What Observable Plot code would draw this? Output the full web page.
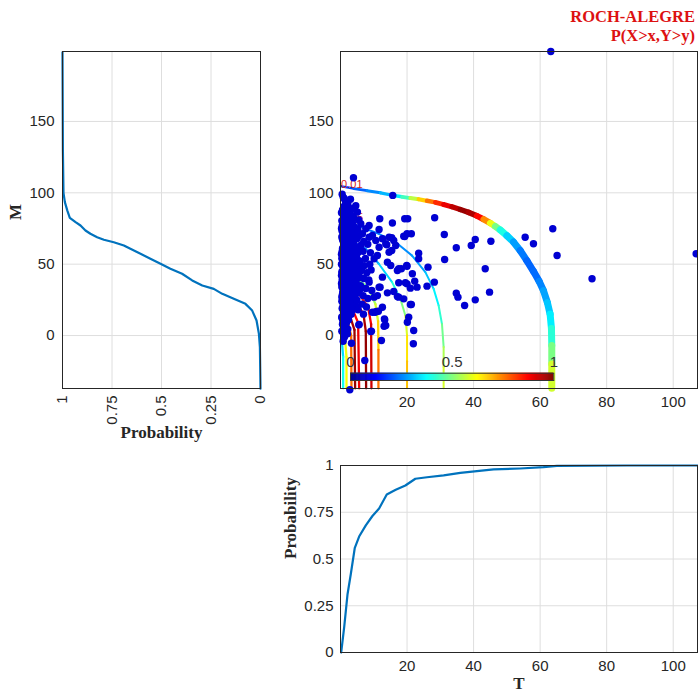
<!DOCTYPE html>
<html><head><meta charset="utf-8">
<script src="https://cdn.jsdelivr.net/npm/d3@7"></script>
<script src="https://cdn.jsdelivr.net/npm/@observablehq/plot@0.6"></script>
<style>
html,body{margin:0;padding:0;background:#fff;overflow:hidden}
#fig{position:relative;width:698px;height:694px;overflow:hidden}
#fig > *{position:absolute}
.ttl{right:3px;font-family:"Liberation Serif","Times New Roman",serif;font-weight:bold;color:#dd1111;font-size:16.5px;line-height:16px;height:16px;white-space:nowrap}
</style></head><body><div id="fig"></div>
<script>
// ---------- data ----------
const mTicks = [0, 50, 100, 150];
const tTicks = [20, 40, 60, 80, 100];
const probTicks = [1, 0.75, 0.5, 0.25, 0];
const barTicks = [0, 0.5, 1];
const mDomain = [-37.1, 199];
const tDomain = [0, 107.3];

// empirical CDF of M (left panel)
const cdfM_M = [198.4, 129.7, 100, 93.5, 87.7, 82.5, 79.5, 77.1, 73.6, 71.3, 68.9, 67.1, 65.4, 63.1, 60.8, 57.3, 53.8, 50.3, 46.8, 43.3, 38.6, 35.1, 32.7, 29.2, 25.7, 22.2, 17.5, 10.5, 1.2, -8.2, -37.2];
const cdfM_P = [1, 0.998, 0.995, 0.988, 0.976, 0.963, 0.934, 0.909, 0.884, 0.859, 0.825, 0.791, 0.741, 0.690, 0.657, 0.606, 0.556, 0.505, 0.455, 0.396, 0.345, 0.294, 0.236, 0.193, 0.135, 0.076, 0.042, 0.020, 0.008, 0.003, 0];

// empirical CDF of T (bottom panel)
const cdfT_T = [0.2, 1.1, 2.1, 3.1, 4.3, 5.6, 7.6, 9.6, 11.6, 13.9, 16.6, 19.5, 22.5, 26, 31, 36, 41, 46, 54, 61, 65, 86, 107.3];
const cdfT_P = [0, 0.135, 0.31, 0.42, 0.56, 0.62, 0.68, 0.73, 0.77, 0.845, 0.87, 0.893, 0.929, 0.937, 0.947, 0.961, 0.97, 0.979, 0.984, 0.991, 0.998, 1, 1];

// observed events [T, M]
const events = [
 // dense column T < 4.3
 [0.8,97],[1.5,94],[2.2,92],[1.0,90.5],[3.0,95.5],[0.5,99],
 [0.6,88],[1.8,87],[2.9,86],[3.8,89],[0.9,84],[2.4,83],[4.0,82.5],[1.3,81],[3.3,80.5],[0.4,80.5],
 [0.7,79],[2.0,78],[3.1,77.5],[4.1,76],[1.2,75.5],[2.7,74],[0.5,73],[3.6,72.5],[1.7,71.5],[2.9,70.5],[4.2,71],[0.9,70],
 [0.4,69],[1.6,68.5],[2.5,67.5],[3.5,67],[0.8,66],[2.0,65],[3.0,64.5],[4.0,65.5],[1.3,63],[2.4,62],[3.4,61.5],[0.6,61],[1.8,60.5],[2.8,60],[3.9,62],[1.0,64.8],
 [0.5,59],[1.5,58.5],[2.3,57.5],[3.2,58],[4.1,57],[0.9,56],[2.0,55],[2.9,54.5],[3.7,55.5],[0.4,54],[1.4,53],[2.5,52],[3.3,51.5],[4.2,52.5],[0.8,51],[1.9,50.5],[2.8,50],[3.9,50.2],
 [0.6,49],[1.6,48.5],[2.4,47.5],[3.4,48],[4.0,46.5],[0.9,46],[2.0,45],[3.0,44.5],[3.8,43.5],[0.4,44],[1.3,43],[2.2,42],[3.2,41.5],[4.2,41],[0.7,41],[1.8,40.5],[2.7,40],[3.6,40.3],
 [0.5,39],[1.5,38.5],[2.4,37.5],[3.3,38],[4.1,36.5],[0.8,36],[2.0,35],[2.9,34.5],[3.8,33.5],[0.4,34],[1.3,33],[2.3,32],[3.2,31.5],[0.7,31],[1.7,30.5],[2.8,30],[4.0,31],
 [0.6,29],[1.6,28.5],[2.5,27.5],[3.5,28],[0.9,26],[2.0,25],[3.1,24.5],[0.4,24],[1.4,23],[2.4,22],[3.3,21.5],[0.8,21],[1.9,20.5],[4.0,23.5],
 [0.5,19],[1.5,18],[2.6,17],[0.9,16],[2.0,14.5],[3.2,15],[0.4,13],[1.3,12],[2.4,11],[0.7,10.5],
 [0.6,8],[1.6,6],[0.4,3],[1.2,-1],[0.8,-4],
 [1.1,96],[2.6,89],[0.3,86],[1.6,85],[3.4,84],[0.5,77],[1.5,77],[2.4,76.5],[3.7,78.5],[5.5,81],[0.3,75],[1.9,73.5],[3.2,73.5],[5.2,74.5],[0.6,67.5],[1.2,66.8],[3.9,68.5],[5.6,70],
 [1.0,60],[2.2,59.5],[3.6,59],[5.2,58],[0.3,57],[1.2,55],[2.6,56],[5.0,53.5],[0.3,50],[1.1,48],[2.2,49],[3.0,47],[5.3,49.5],[0.5,45],[1.6,45],[2.6,43.5],[4.8,44],
 [0.3,42],[1.1,40],[2.3,39.5],[3.6,42.5],[5.6,40.5],[1.0,37],[1.9,36.5],[3.1,36],[5.0,34.5],[0.3,36.5],[1.1,31.5],[2.1,31],[3.5,32.5],[5.8,32],[1.1,27],[2.1,27],[3.0,26.5],[4.4,28.5],
 [0.4,27],[1.2,24.5],[2.7,23.5],[4.6,21],[1.1,20],[2.8,19.5],[3.7,18],[1.1,15],[2.5,13.5],[1.8,9],[0.9,6],[2.2,4.5],
 // 4.3 <= T < 9.6
 [4.6,91],[5.1,86.5],[6.1,78.3],[7.6,74.8],[8.6,77.1],[6.6,71.3],[9.6,70.1],[5.0,68],[7.0,66],[8.2,64],[5.5,62],[6.8,59],[9.0,58],[4.8,56],[7.5,54],[5.9,52],[8.8,50],[4.6,48],[6.3,46],[7.9,44],[9.2,46],[5.2,42],[7.0,40],[8.5,39],[4.7,37],[6.0,35],[7.6,33],[9.4,31.6],[5.4,30],[6.8,28],[8.2,26],[4.9,25],[6.5,22],[7.8,20],[5.3,18],[6.9,15],[5.6,7.7],[9.1,2.8],[8.6,68.9],[8.6,37.4],[4.5,60],[5.8,44.5],[4.4,33],[6.2,63.5],[7.2,49],
 // T >= 9.6
 [3.9,110.6],[63.2,199],[15.7,98.2],[11.8,81.8],[15.6,78.8],[19.3,81.8],[20.2,81.8],[28.3,82.5],[31.2,70.8],[20,71.3],[19.3,69.4],[23.5,57.7],[23.5,53.8],[26.3,47.9],[31.3,53.3],[28.2,37.4],[34.8,61.5],[39.3,63.1],[40.5,67.3],[45.2,66.1],[43.5,46.8],[44.8,30.4],[34.8,29.7],[35.3,26.9],[37.3,21],[40.5,25],[55.5,68.9],[58,64.3],[63.8,74.8],[65.1,56.1],[75.6,39.8],[106.9,57.3],
 [11.6,74.3],[19,69.6],[21.3,71.3],[14.6,68.9],[16,66.6],[13.9,63.6],[14.6,58.4],[17.5,46.8],[20,48.6],[17.1,45.6],[21.6,43.3],[14.1,51.4],[15.1,49.1],[12.6,40.9],[17.5,37],[19.5,37],[21,33.2],[23,33.9],[26,34.6],[16,30.9],[17.5,26.9],[19,25.7],[14.1,29.9],[21.3,21.7],[12.6,19.8],[10.8,16.8],[9.6,16.3],[13.2,11.7],[13.6,7],[20.5,12.8],[20.1,9.3],[22,3.5],[11.6,61.9],[10.6,66.6],[11.1,56.1],[10.1,53.8],[11.6,33.9],[11.1,28],[12.6,67.8],[13.6,64.3],[16.6,63.1],
 [9.3,3],[12.3,-3.5],[13.3,11],[13.1,6.5],[21.9,-5.8],[21,21.7],[7.3,-17.5],[2.8,-38],[3.3,-5.4],[2.1,1.2],[0.4,12.4],[5.5,7.5],[10.4,16.3],[11.4,17],[10.1,26.9],[11.9,33.9],[17.1,27.3],[20,36.2],[22.3,38.1],[18.3,46.8],[19.9,49.1],[15.4,59.6],[15.4,68.5]
];

// contour lines of P(X>x,Y>y): points [T, M, colour value]
const contour001 = [[0.3,104.5,0.18],[4,103,0.2],[8,101.5,0.24],[12,100,0.28],[15.5,98.3,0.33],[18.5,97.2,0.38],[21,96.3,0.5],[23.5,95.5,0.62],[26,94.4,0.72],[28.5,93.3,0.8],[31,91.8,0.87],[33.5,90.2,0.92],[36,88.3,0.96],[38.5,86.3,0.99],[41,83.8,0.92],[43,81.5,0.82],[45,78.8,0.66],[46.5,76.5,0.55],[48,74,0.44],[50,70,0.36],[52,65.5,0.3],[54,59.6,0.26],[56,52.5,0.23],[58,45,0.22],[59.7,38,0.24],[61,31.5,0.27],[62.2,23,0.3],[63,15,0.34],[63.4,5,0.38],[63.5,-7,0.45],[63.5,-20,0.54],[63.5,-37,0.62]];
const contour005 = [[0.3,81,0.22],[5,77,0.23],[11.5,71.3,0.25],[16.6,65.4,0.26],[21.5,56,0.27],[25.5,44.4,0.3],[28,32.7,0.34],[29.5,21,0.39],[30.5,8,0.45],[31,-8,0.52],[31,-22,0.57],[31,-37,0.6]];
const contourC = [[0.3,68,0.22],[4,65,0.24],[7.6,60.8,0.26],[11.5,50.3,0.3],[15.5,37.4,0.37],[18,25.7,0.45],[19.5,14,0.55],[20,0,0.63],[20,-18,0.67],[20,-37,0.7]];
const contourD = [[0.3,46,0.45],[4,42,0.47],[8.5,33,0.5],[10.5,22,0.55],[11.3,10,0.62],[11.4,-10,0.72],[11.4,-37,0.8]];
const contourE = [[0.3,38,0.8],[5,31,0.83],[8.3,20,0.86],[9.2,8,0.9],[9.3,-37,0.94]];
const contourF = [[0.3,31,0.9],[4,26,0.92],[6.9,15,0.95],[7.6,3,0.97],[7.7,-37,0.99]];
const contourG = [[0.3,25,0.86],[3.5,19,0.87],[5.3,9,0.88],[5.6,-37,0.9]];
const contourH = [[0.3,20,0.95],[2.8,14,0.96],[4.2,4,0.97],[4.4,-37,0.98]];
const contourI = [[0.3,15,0.72],[2.3,9,0.74],[3.2,0,0.76],[3.3,-37,0.78]];
const contourJ = [[0.3,8,0.6],[1.3,0,0.6],[1.8,-15,0.62],[1.8,-37,0.62]];
const contourK = [[0.2,2,0.3],[0.8,-15,0.38],[0.8,-37,0.4]];
const contourLabels = [{T: 3.4, M: 105.8, text: "0.01"}, {T: 3.6, M: 82.7, text: "0.05"}];

// jet colormap stops
const jetStops = [0, 0.125, 0.375, 0.625, 0.875, 1];
const jetColors = ["#00008f", "#0000ff", "#00ffff", "#ffff00", "#ff0000", "#800000"];

// ---------- helpers ----------
const jet = d3.scaleLinear().domain(jetStops).range(jetColors).interpolate(d3.interpolateRgb).clamp(true);
const colorScale = {type: "linear", domain: [0, 1], interpolate: t => jet(t)};
const axisColor = "#262626";
const gridColor = "#dedede";
const curveColor = "#0072bd";
const serif = '"Liberation Serif", "Times New Roman", serif';
const baseStyle = {fontFamily: '"Liberation Sans", Arial, Helvetica, sans-serif', fontSize: "15px", color: axisColor, background: "transparent", overflow: "visible"};
const labelOpts = {fontFamily: serif, fontWeight: "bold", fontSize: 17, fill: axisColor, text: d => d};

function segments(pts) {
  const out = [];
  for (let i = 0; i < pts.length - 1; i++) {
    const [x1, y1, c1] = pts[i], [x2, y2, c2] = pts[i + 1];
    out.push({x1, y1, x2, y2, c: (c1 + c2) / 2, f: i / Math.max(1, pts.length - 2)});
  }
  return out;
}
const linkOpts = w => ({x1: "x1", y1: "y1", x2: "x2", y2: "y2", stroke: "c", strokeWidth: w, strokeLinecap: "round"});

const fig = document.getElementById("fig");

// ---------- left panel ----------
const leftData = cdfM_M.map((m, i) => ({m, p: cdfM_P[i]}));
const left = Plot.plot({
  width: 280, height: 460,
  marginLeft: 62, marginRight: 20, marginTop: 51, marginBottom: 72,
  style: baseStyle,
  x: {domain: [0, 1], reverse: true, ticks: probTicks, tickFormat: d => String(d), tickRotate: -90, tickSize: 0, tickPadding: 7, label: null},
  y: {domain: mDomain, ticks: mTicks, tickSize: 0, tickPadding: 8, label: null},
  marks: [
    Plot.ruleX(probTicks, {stroke: gridColor}),
    Plot.ruleY(mTicks, {stroke: gridColor}),
    Plot.line(leftData, {x: "p", y: "m", stroke: curveColor, strokeWidth: 2.2}),
    Plot.frame({stroke: axisColor}),
    Plot.text(["Probability"], {...labelOpts, frameAnchor: "bottom", dy: 49}),
    Plot.text(["M"], {...labelOpts, frameAnchor: "left", dx: -47, rotate: -90})
  ]
});
left.style.left = "0px"; left.style.top = "0px";
fig.appendChild(left);

// ---------- main panel ----------
const inner = [contourK, contourJ, contourI, contourH, contourG, contourF, contourE, contourD, contourC, contour005];
const main = Plot.plot({
  width: 698, height: 420,
  marginLeft: 340, marginRight: 1, marginTop: 51, marginBottom: 32,
  style: baseStyle,
  x: {domain: tDomain, ticks: tTicks, tickSize: 0, tickPadding: 8, label: null},
  y: {domain: mDomain, ticks: mTicks, tickSize: 0, tickPadding: 7, label: null},
  color: colorScale,
  marks: [
    Plot.ruleX(tTicks, {stroke: gridColor}),
    Plot.ruleY(mTicks, {stroke: gridColor}),
    ...inner.map(c => Plot.link(segments(c), linkOpts(c === contour005 || c === contourC ? 2 : 2.3))),
    Plot.link(segments(contour001), linkOpts(d => 2.5 + 4.5 * Math.min(1, d.f / 0.6))),
    Plot.text(contourLabels, {x: "T", y: "M", text: "text", fill: "#d42020", fontSize: 11, fontFamily: '"Liberation Sans", Arial, sans-serif'}),
    Plot.dot(events, {x: d => d[0], y: d => d[1], r: 3.7, fill: "#0000d2", stroke: "none"}),
    Plot.frame({stroke: axisColor})
  ]
});
main.style.left = "0px"; main.style.top = "0px";
fig.appendChild(main);

// ---------- colour bar ----------
const rampStep = 1 / 200;
const ramp = d3.range(0, 1, rampStep);
const bar = Plot.plot({
  width: 245, height: 45,
  marginLeft: 20, marginRight: 21.7, marginTop: 32.7, marginBottom: 5,
  style: {...baseStyle, color: "#333"},
  x: {domain: [0, 1], axis: "top", ticks: barTicks, tickFormat: d => String(d), tickSize: 0, tickPadding: 6, label: null},
  y: {domain: [0, 1], axis: null},
  color: colorScale,
  marks: [
    Plot.rect(ramp, {x1: d => d, x2: d => Math.min(1, d + rampStep * 1.6), y1: 0, y2: 1, fill: d => d + rampStep / 2}),
    Plot.frame({stroke: "#333"})
  ]
});
bar.style.left = "330px"; bar.style.top = "340px";
fig.appendChild(bar);

// ---------- bottom panel ----------
const bottomData = cdfT_T.map((t, i) => ({t, p: cdfT_P[i]}));
const pTicksB = [0, 0.25, 0.5, 0.75, 1];
const bottom = Plot.plot({
  width: 698, height: 274,
  marginLeft: 340, marginRight: 1, marginTop: 45, marginBottom: 42,
  style: baseStyle,
  x: {domain: tDomain, ticks: tTicks, tickSize: 0, tickPadding: 8, label: null},
  y: {domain: [0, 1], ticks: pTicksB, tickFormat: d => String(d), tickSize: 0, tickPadding: 7, label: null},
  marks: [
    Plot.ruleX(tTicks, {stroke: gridColor}),
    Plot.ruleY(pTicksB, {stroke: gridColor}),
    Plot.line(bottomData, {x: "t", y: "p", stroke: curveColor, strokeWidth: 2.2}),
    Plot.frame({stroke: axisColor}),
    Plot.text(["T"], {...labelOpts, frameAnchor: "bottom", dy: 36}),
    Plot.text(["Probability"], {...labelOpts, frameAnchor: "left", dx: -50, rotate: -90})
  ]
});
bottom.style.left = "0px"; bottom.style.top = "420px";
fig.appendChild(bottom);

// ---------- title ----------
const t1 = document.createElement("div"); t1.className = "ttl"; t1.style.top = "9px"; t1.textContent = "ROCH-ALEGRE";
const t2 = document.createElement("div"); t2.className = "ttl"; t2.style.top = "28px"; t2.textContent = "P(X>x,Y>y)";
fig.appendChild(t1); fig.appendChild(t2);
</script></body></html>
